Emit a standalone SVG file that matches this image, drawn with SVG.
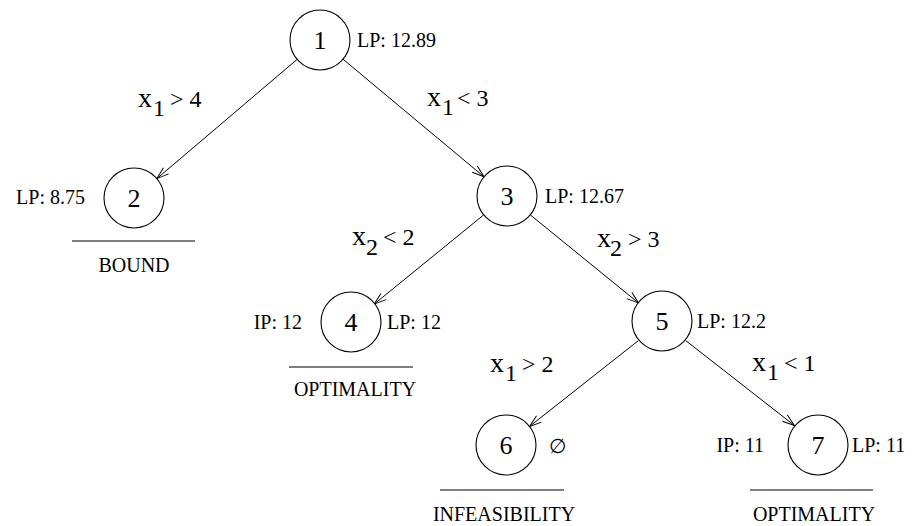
<svg xmlns="http://www.w3.org/2000/svg" width="913" height="526" viewBox="0 0 913 526">
<style>
  .node circle { fill: #fff; stroke: #000; stroke-width: 1.1; }
  .num { font-family: "Liberation Serif", "Times New Roman", serif; font-size: 26px; text-anchor: middle; fill: #000; }
  .lbl { font-family: "Liberation Serif", "Times New Roman", serif; font-size: 20px; fill: #000; }
  .mid { text-anchor: middle; }
  .end { text-anchor: end; }
  .rule { stroke: #000; stroke-width: 1.1; }
  .edge line { stroke: #000; stroke-width: 1; marker-end: url(#arr); }
  .cond { font-family: "Liberation Serif", "Times New Roman", serif; font-size: 24px; fill: #000; }
  .cx { font-size: 28px; }
  .sym { font-family: "DejaVu Sans", sans-serif; font-size: 20px; fill: #000; }
</style>
<defs>
  <marker id="arr" markerUnits="userSpaceOnUse" markerWidth="14" markerHeight="10" refX="12" refY="4" orient="auto" overflow="visible">
    <path d="M0,0 L12,4 L0,8" fill="none" stroke="#000" stroke-width="1"/>
  </marker>
</defs>
<rect width="913" height="526" fill="#fff"/>

<g id="connectors" class="edge">
  <line x1="297.1" y1="59.4" x2="156.9" y2="178.6"/>
  <line x1="343" y1="59.2" x2="484" y2="176.8"/>
  <line x1="483.7" y1="214.9" x2="374.2" y2="304.1"/>
  <line x1="530.3" y1="214.9" x2="638.7" y2="303.1"/>
  <line x1="638.4" y1="340.6" x2="529.6" y2="426.4"/>
  <line x1="685.6" y1="340.5" x2="794.4" y2="425.5"/>
</g>

<g id="edge-labels">
  <text class="cond"><tspan class="cx" x="138" y="107">x</tspan><tspan x="153" y="116">1</tspan><tspan x="170" y="107">&gt; 4</tspan></text>
  <text class="cond"><tspan class="cx" x="427" y="106">x</tspan><tspan x="442" y="115">1</tspan><tspan x="457" y="106">&lt; 3</tspan></text>
  <text class="cond"><tspan class="cx" x="352" y="245">x</tspan><tspan x="366" y="255">2</tspan><tspan x="383" y="245">&lt; 2</tspan></text>
  <text class="cond"><tspan class="cx" x="597" y="247">x</tspan><tspan x="610" y="256">2</tspan><tspan x="628" y="247">&gt; 3</tspan></text>
  <text class="cond"><tspan class="cx" x="490" y="372">x</tspan><tspan x="505" y="381">1</tspan><tspan x="522" y="372">&gt; 2</tspan></text>
  <text class="cond"><tspan class="cx" x="752" y="371">x</tspan><tspan x="767" y="380">1</tspan><tspan x="784" y="371">&lt; 1</tspan></text>
</g>

<g id="node1" class="node">
  <circle cx="320" cy="40" r="30"/>
  <text class="num" x="320" y="49">1</text>
  <text class="lbl" x="357" y="47">LP: 12.89</text>
</g>
<g id="node2" class="node">
  <circle cx="134" cy="198" r="30"/>
  <text class="num" x="134" y="207">2</text>
  <text class="lbl end" x="85" y="204">LP: 8.75</text>
  <line class="rule" x1="72" y1="241" x2="195" y2="241"/>
  <text class="lbl mid" x="134" y="272">BOUND</text>
</g>
<g id="node3" class="node">
  <circle cx="507" cy="196" r="30"/>
  <text class="num" x="507" y="205">3</text>
  <text class="lbl" x="545" y="203">LP: 12.67</text>
</g>
<g id="node4" class="node">
  <circle cx="351" cy="322" r="30"/>
  <text class="num" x="351" y="331">4</text>
  <text class="lbl end" x="302" y="329">IP: 12</text>
  <text class="lbl" x="387" y="329">LP: 12</text>
  <line class="rule" x1="289" y1="367" x2="413" y2="367"/>
  <text class="lbl mid" x="355" y="396">OPTIMALITY</text>
</g>
<g id="node5" class="node">
  <circle cx="662" cy="321" r="30"/>
  <text class="num" x="662" y="330">5</text>
  <text class="lbl" x="697" y="328">LP: 12.2</text>
</g>
<g id="node6" class="node">
  <circle cx="506" cy="445" r="30"/>
  <text class="num" x="506" y="454">6</text>
  <text class="sym" x="549" y="453">∅</text>
  <line class="rule" x1="440" y1="490" x2="564" y2="490"/>
  <text class="lbl mid" x="504" y="521">INFEASIBILITY</text>
</g>
<g id="node7" class="node">
  <circle cx="818" cy="445" r="30"/>
  <text class="num" x="818" y="454">7</text>
  <text class="lbl end" x="764" y="452">IP: 11</text>
  <text class="lbl" x="852" y="452">LP: 11</text>
  <line class="rule" x1="750" y1="490" x2="873" y2="490"/>
  <text class="lbl mid" x="814" y="521">OPTIMALITY</text>
</g>
</svg>
